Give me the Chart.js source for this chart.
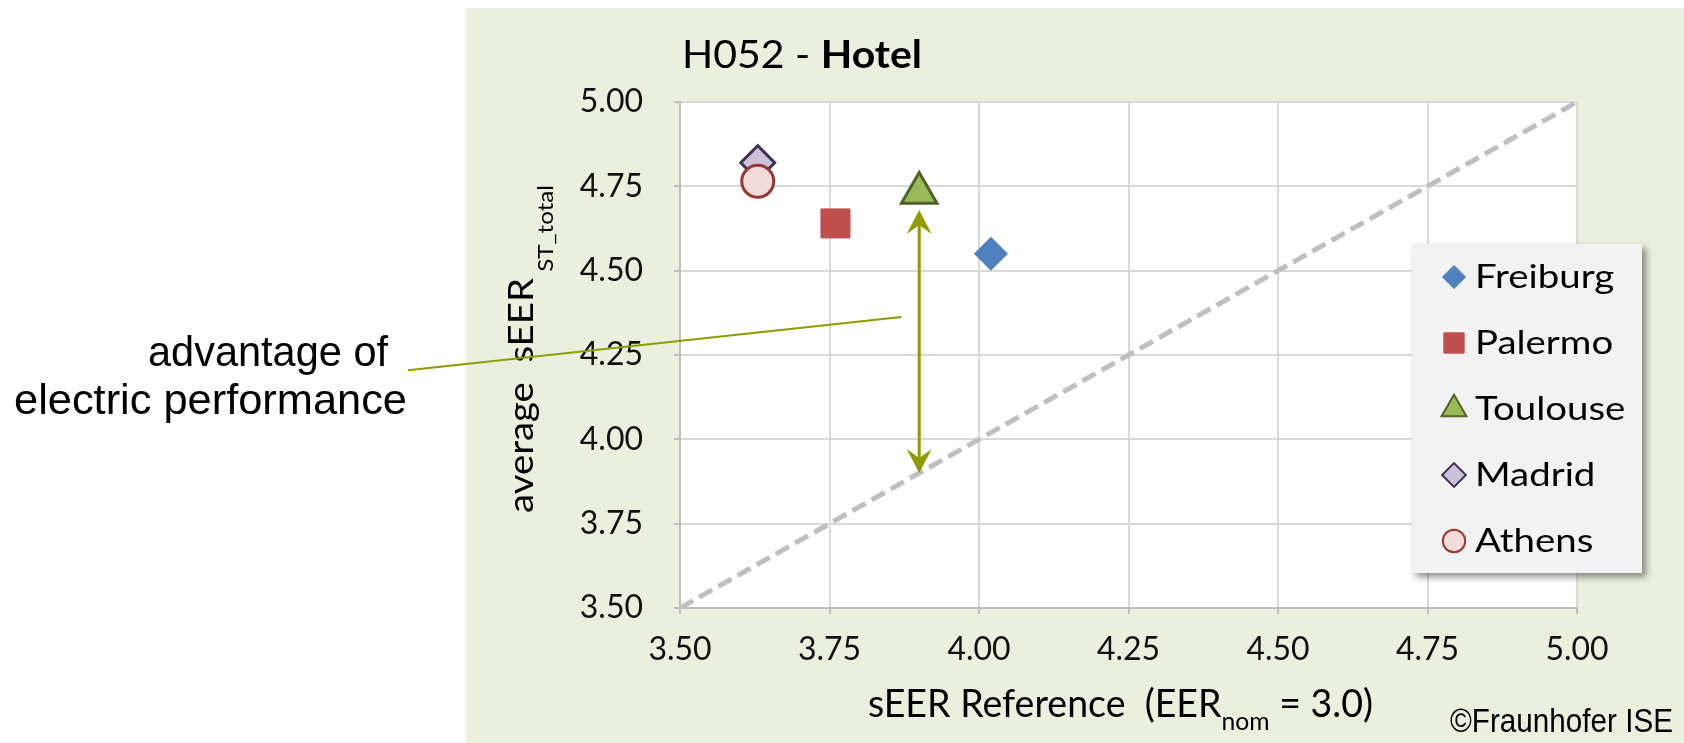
<!DOCTYPE html>
<html>
<head>
<meta charset="utf-8">
<title>H052 - Hotel</title>
<script src="https://cdn.jsdelivr.net/npm/chart.js@4.4.1/dist/chart.umd.min.js"></script>
<style>
    html, body { margin: 0; padding: 0; background: #fff; }
    #wrap { width: 1684px; height: 743px; }
</style>
</head>
<body>
<div id="wrap"><canvas id="chart" width="1684" height="743"></canvas></div>
<script>
// values
const cities = ['Freiburg', 'Palermo', 'Toulouse', 'Madrid', 'Athens'];
const seerReference = [4.02, 3.76, 3.90, 3.63, 3.63];
const seerAverage = [4.55, 4.64, 4.73, 4.82, 4.765];
const axisTicks = [3.50, 3.75, 4.00, 4.25, 4.50, 4.75, 5.00];
const parityLine = [3.50, 5.00];

// arrow from under Toulouse down to the parity line
const arrowX = 3.90;
const arrowFrom = 4.68;
const arrowTo = 3.90;
// leader line of the note, in data units (starts left of the axis)
const leaderX = [3.045, 3.87];
const leaderY = [4.205, 4.363];

const markerStyles = {
    Freiburg: { style: 'rectRot', radius: 16.5, fill: '#4F81BD', line: '#4A7EBB', width: 1 },
    Palermo: { style: 'rect', radius: 20.5, fill: '#C0504D', line: '#BE4B48', width: 1 },
    Toulouse: { style: 'triangle', radius: 20.5, fill: '#9BBB59', line: '#4F6228', width: 3 },
    Madrid: { style: 'rectRot', radius: 17, fill: '#CCC1DA', line: '#403152', width: 3 },
    Athens: { style: 'circle', radius: 16, fill: '#F2DCDB', line: '#953735', width: 3 }
};

const olive = '#8D9C00';
const tickFont = { family: 'Lato', size: 32 };

// draws a row of text pieces squeezed/stretched to a given width
function fitSpans(ctx, spans, x, y, width) {
    let natural = 0;
    spans.forEach(s => { ctx.font = s.font; natural += ctx.measureText(s.text).width; });
    const k = width / natural;
    ctx.save();
    ctx.translate(x, y);
    ctx.scale(k, 1);
    ctx.textAlign = 'left';
    ctx.textBaseline = 'alphabetic';
    let cx = 0;
    spans.forEach(s => {
        ctx.font = s.font;
        ctx.fillText(s.text, cx, s.dy || 0);
        cx += ctx.measureText(s.text).width;
    });
    ctx.restore();
}

function arrowHead(ctx, x, y, dir) {
    // dir = 1 points up, -1 points down
    const len = 24, half = 12.5, notch = 15;
    ctx.beginPath();
    ctx.moveTo(x, y);
    ctx.lineTo(x - half, y + dir * len);
    ctx.lineTo(x, y + dir * notch);
    ctx.lineTo(x + half, y + dir * len);
    ctx.closePath();
    ctx.fill();
}

const decorations = {
    id: 'decorations',
    beforeDraw(chart) {
        const { ctx, chartArea: a } = chart;
        ctx.save();
        ctx.fillStyle = '#EBF0DE';
        ctx.fillRect(466, 8, chart.width - 466, chart.height - 8);
        ctx.fillStyle = '#FFFFFF';
        ctx.fillRect(a.left, a.top, a.right - a.left, a.bottom - a.top);
        ctx.restore();
    },
    afterDatasetsDraw(chart) {
        const { ctx, scales: { x, y } } = chart;
        const px = x.getPixelForValue(arrowX);
        const top = y.getPixelForValue(arrowFrom);
        const bottom = y.getPixelForValue(arrowTo);
        ctx.save();
        ctx.strokeStyle = olive;
        ctx.fillStyle = olive;
        ctx.lineWidth = 3;
        ctx.beginPath();
        ctx.moveTo(px, top + 12);
        ctx.lineTo(px, bottom - 12);
        ctx.stroke();
        arrowHead(ctx, px, top, 1);
        arrowHead(ctx, px, bottom, -1);
        ctx.restore();
    },
    afterDraw(chart) {
        const { ctx, scales: { x, y } } = chart;
        ctx.save();
        ctx.fillStyle = '#000';

        // title
        fitSpans(ctx, [
            { text: 'H052 - ', font: '39px Lato' },
            { text: 'Hotel', font: 'bold 39px Lato' }
        ], 682, 68, 240);

        // x axis title
        fitSpans(ctx, [
            { text: 'sEER Reference  (EER', font: '38px Lato' },
            { text: 'nom', font: '25px Lato', dy: 13 },
            { text: ' = 3.0)', font: '38px Lato' }
        ], 868, 717, 505);

        // y axis title, rotated
        ctx.save();
        ctx.translate(533, 513);
        ctx.rotate(-Math.PI / 2);
        fitSpans(ctx, [
            { text: 'average  sEER', font: '35px Lato' },
            { text: ' ST_total', font: '22px Lato', dy: 20 }
        ], 0, 0, 328);
        ctx.restore();

        // copyright
        fitSpans(ctx, [{ text: '\u00A9Fraunhofer ISE', font: '33px "Liberation Sans"' }], 1450, 732, 223);

        // note text
        fitSpans(ctx, [{ text: 'advantage of', font: '42px "Liberation Sans"' }], 148, 366, 240);
        fitSpans(ctx, [{ text: 'electric performance', font: '42px "Liberation Sans"' }], 14, 414, 393);

        // leader line
        ctx.strokeStyle = olive;
        ctx.lineWidth = 2;
        ctx.beginPath();
        ctx.moveTo(x.getPixelForValue(leaderX[0]), y.getPixelForValue(leaderY[0]));
        ctx.lineTo(x.getPixelForValue(leaderX[1]), y.getPixelForValue(leaderY[1]));
        ctx.stroke();

        // legend box, sits over the plot
        const bx = 1412, by = 244, bw = 230, bh = 329;
        ctx.save();
        ctx.shadowColor = 'rgba(0,0,0,0.45)';
        ctx.shadowBlur = 7;
        ctx.shadowOffsetX = 4;
        ctx.shadowOffsetY = 4;
        ctx.fillStyle = '#F2F2F2';
        ctx.fillRect(bx, by, bw, bh);
        ctx.restore();

        cities.forEach((name, i) => {
            const m = markerStyles[name];
            const cy = 277 + i * 66;
            ctx.fillStyle = m.fill;
            ctx.strokeStyle = m.line;
            ctx.lineWidth = Math.min(m.width, 2);
            Chart.helpers.drawPoint(ctx, {
                pointStyle: m.style,
                radius: m.radius * 0.7,
                rotation: 0,
                borderWidth: Math.min(m.width, 2)
            }, 1454, cy);

            ctx.save();
            ctx.translate(1475, cy + 1);
            ctx.scale(1.2, 1);
            ctx.fillStyle = '#000';
            ctx.font = '32px Lato';
            ctx.textAlign = 'left';
            ctx.textBaseline = 'middle';
            ctx.fillText(name, 0, 0);
            ctx.restore();
        });
        ctx.restore();
    }
};

const datasets = cities.map((name, i) => {
    const m = markerStyles[name];
    return {
        label: name,
        data: [{ x: seerReference[i], y: seerAverage[i] }],
        pointStyle: m.style,
        pointRadius: m.radius,
        pointHoverRadius: m.radius,
        backgroundColor: m.fill,
        borderColor: m.line,
        pointBorderWidth: m.width,
        order: cities.length - i
    };
});

datasets.push({
    type: 'line',
    label: 'parity',
    data: parityLine.map(v => ({ x: v, y: v })),
    borderColor: '#BFBFBF',
    borderWidth: 5,
    borderDash: [15, 7],
    pointRadius: 0,
    fill: false,
    order: 20
});

const axisCommon = {
    type: 'linear',
    min: axisTicks[0],
    max: axisTicks[axisTicks.length - 1],
    afterBuildTicks: scale => { scale.ticks = axisTicks.map(v => ({ value: v })); },
    grid: { color: '#D9D9D9', lineWidth: 2, tickLength: 6, tickColor: '#BFBFBF', drawTicks: true },
    border: { color: '#BFBFBF', width: 2 }
};

new Chart(document.getElementById('chart'), {
    type: 'scatter',
    data: { datasets },
    options: {
        responsive: false,
        animation: false,
        events: [],
        layout: { padding: { top: 102, right: 107, bottom: 0, left: 0 } },
        plugins: {
            legend: { display: false },
            tooltip: { enabled: false },
            title: { display: false }
        },
        scales: {
            x: {
                ...axisCommon,
                position: 'bottom',
                ticks: { font: tickFont, color: '#111', padding: 16, maxRotation: 0, callback: v => v.toFixed(2) },
                afterFit: s => { s.height = 135; }
            },
            y: {
                ...axisCommon,
                position: 'left',
                ticks: { font: tickFont, color: '#111', padding: 31, callback: v => v.toFixed(2) },
                afterFit: s => { s.width = 680; }
            }
        }
    },
    plugins: [decorations]
});
</script>
</body>
</html>
